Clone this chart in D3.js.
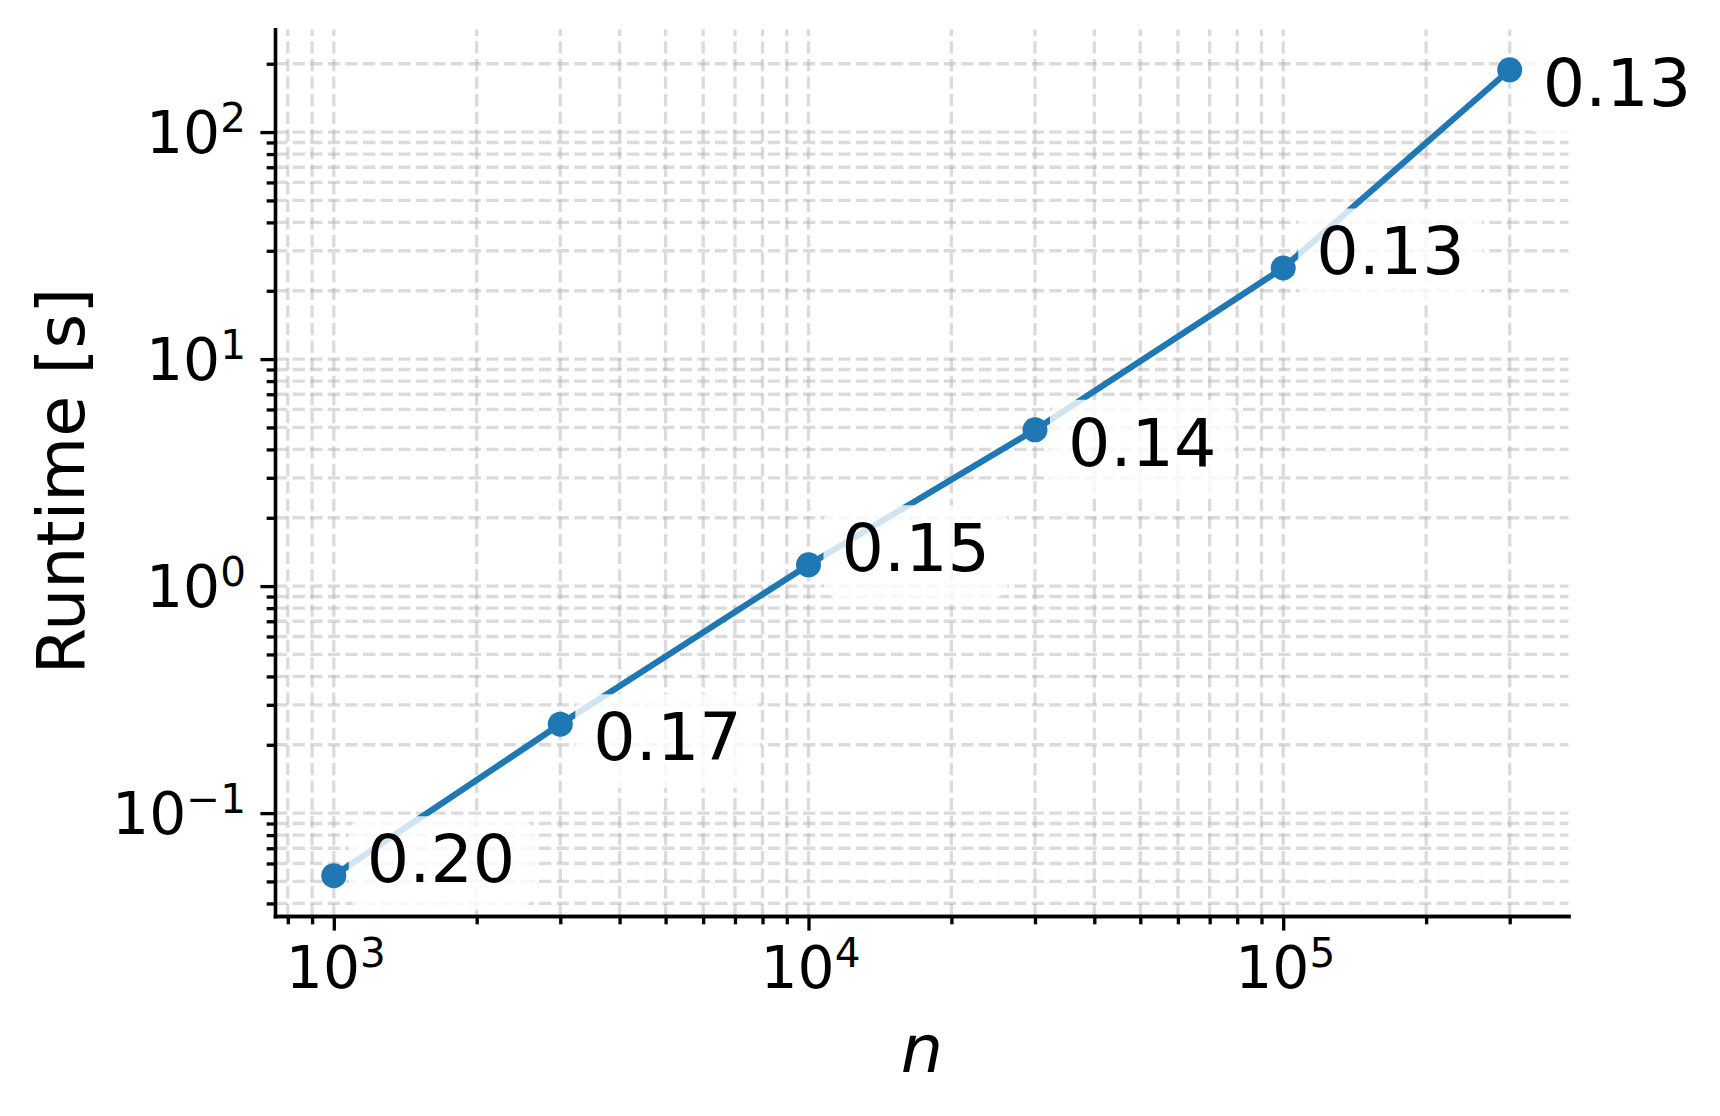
<!DOCTYPE html>
<head>
<meta charset="utf-8">
<script src="https://d3js.org/d3.v7.min.js"></script>
<style>
body {
	margin: 0;
	background: #fff;
}
text {
	font-family: "DejaVu Sans", sans-serif;
	fill: #000;
}
.grid line {
	stroke: #b0b0b0;
	stroke-opacity: .45;
	stroke-width: 3.33px;
	stroke-dasharray: 12.3 5.3;
}
.axis path, .axis line {
	stroke: #000;
	stroke-width: 3.33px;
}
</style>
</head>
<body>
<svg id="chart" width="1720" height="1116"></svg>
<script>

// problem size and measured runtime
var sizes = [1000, 3000, 10000, 30000, 100000, 300000];
var runtimes = [0.0530, 0.2466, 1.241, 4.88, 25.2, 188.1];
var notes = ["0.20", "0.17", "0.15", "0.14", "0.13", "0.13"];

var xLabel = "n",
	yLabel = "Runtime [s]";

var svg = d3.select("#chart"),
	plotL = 275, plotR = 1568.5, plotT = 29.5, plotB = 916;

var pt = 300 / 72; // figure was 300 dpi
var blue = "#1f77b4";

// matplotlib style 5% margin in log space
function logPad(ext) {
	var a = Math.log10(ext[0]), b = Math.log10(ext[1]), m = (b - a) * 0.05;
	return [Math.pow(10, a - m), Math.pow(10, b + m)];
}

var x = d3.scaleLog().domain(logPad(d3.extent(sizes))).range([plotL, plotR]);
var y = d3.scaleLog().domain(logPad(d3.extent(runtimes))).range([plotB, plotT]);

var isMajor = v => Math.abs(Math.log10(v) - Math.round(Math.log10(v))) < 1e-9;

var xTicks = x.ticks(),
	yTicks = y.ticks();

// grid, major + minor
var grid = svg.append("g").attr("class", "grid");
grid.selectAll(".gx").data(xTicks).enter().append("line")
	.attr("x1", d => x(d)).attr("x2", d => x(d))
	.attr("y1", plotB).attr("y2", plotT);
grid.selectAll(".gy").data(yTicks).enter().append("line")
	.attr("x1", plotL).attr("x2", plotR)
	.attr("y1", d => y(d)).attr("y2", d => y(d));

// data line and markers
var pts = sizes.map((n, i) => ({n: n, t: runtimes[i], note: notes[i], i: i}));

svg.append("path")
	.datum(pts)
	.attr("fill", "none")
	.attr("stroke", blue)
	.attr("stroke-width", 1.5 * pt)
	.attr("stroke-linecap", "square")
	.attr("d", d3.line().x(d => x(d.n)).y(d => y(d.t)));

svg.selectAll(".dot").data(pts).enter().append("circle")
	.attr("cx", d => x(d.n))
	.attr("cy", d => y(d.t))
	.attr("r", 3 * pt)
	.attr("fill", blue);

// annotations with translucent white boxes
var notesG = svg.selectAll(".note").data(pts).enter().append("g")
	.attr("transform", d => "translate(" + (x(d.n) + 33) + "," +
		(y(d.t) + (d.i % 2 ? 36 : 6.5)) + ")");

notesG.append("rect");
notesG.append("text")
	.attr("font-size", 66.7)
	.text(d => d.note);

notesG.each(function() {
	var g = d3.select(this),
		w = g.select("text").node().getComputedTextLength();
	g.select("rect")
		.attr("x", -18).attr("y", -66)
		.attr("width", w + 36).attr("height", 94)
		.attr("rx", 18)
		.attr("fill", "#fff")
		.attr("fill-opacity", 0.8);
});

// axes: minor ticks then major ticks
var gx = svg.append("g").attr("class", "axis")
	.attr("transform", "translate(0," + plotB + ")");
gx.append("g").call(d3.axisBottom(x).tickValues(xTicks.filter(d => !isMajor(d)))
	.tickSize(2 * pt).tickSizeOuter(0).tickFormat(""));
gx.append("g").call(d3.axisBottom(x).tickValues(xTicks.filter(isMajor))
	.tickSize(3.5 * pt).tickSizeOuter(0).tickFormat(""));

var gy = svg.append("g").attr("class", "axis")
	.attr("transform", "translate(" + plotL + ",0)");
gy.append("g").call(d3.axisLeft(y).tickValues(yTicks.filter(d => !isMajor(d)))
	.tickSize(2 * pt).tickSizeOuter(0).tickFormat(""));
gy.append("g").call(d3.axisLeft(y).tickValues(yTicks.filter(isMajor))
	.tickSize(3.5 * pt).tickSizeOuter(0).tickFormat(""));

svg.selectAll(".axis path").attr("stroke-linecap", "square");

function powLabel(sel, v) {
	var e = Math.round(Math.log10(v));
	sel.append("tspan").text("10");
	sel.append("tspan")
		.attr("font-size", 40.5)
		.attr("dy", -21)
		.text(e < 0 ? "\u2212" + (-e) : e);
}

gx.selectAll(".xlab").data(xTicks.filter(isMajor)).enter().append("text")
	.attr("x", d => x(d) + 2)
	.attr("y", 72)
	.attr("font-size", 58.3)
	.attr("text-anchor", "middle")
	.each(function(d) { powLabel(d3.select(this), d); });

gy.selectAll(".ylab").data(yTicks.filter(isMajor)).enter().append("text")
	.attr("x", -29)
	.attr("y", d => y(d) + 21)
	.attr("font-size", 58.3)
	.attr("text-anchor", "end")
	.each(function(d) { powLabel(d3.select(this), d); });

// axis titles
svg.append("text")
	.attr("x", 922).attr("y", 1071.5)
	.attr("font-size", 66.7)
	.attr("font-style", "italic")
	.attr("text-anchor", "middle")
	.text(xLabel);

svg.append("text")
	.attr("transform", "translate(83.5,481) rotate(-90)")
	.attr("font-size", 66.7)
	.attr("text-anchor", "middle")
	.text(yLabel);

</script>
</body>
